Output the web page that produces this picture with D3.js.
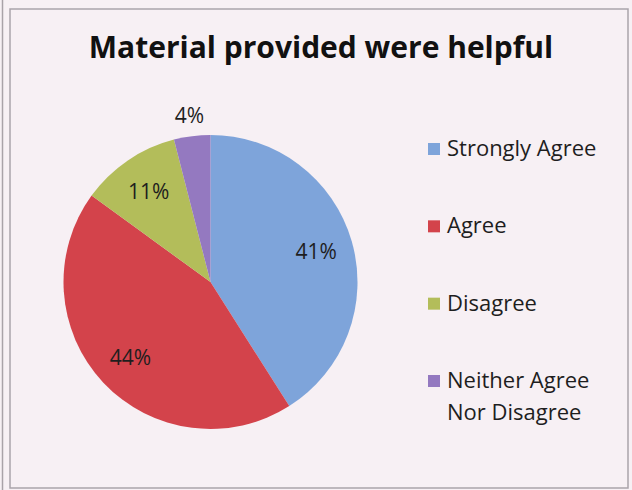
<!DOCTYPE html>
<html>
<head>
<meta charset="utf-8">
<script src="https://cdn.jsdelivr.net/npm/d3@7"></script>
<style>
  html, body { margin: 0; padding: 0; background: #ffffff; }
  svg { display: block; }
</style>
</head>
<body>
<svg id="chart" width="632" height="490"></svg>
<script>
const title = "Material provided were helpful";
const categories = ["Strongly Agree", "Agree", "Disagree", "Neither Agree Nor Disagree"];
const legendLines = [["Strongly Agree"], ["Agree"], ["Disagree"], ["Neither Agree", "Nor Disagree"]];
const values = [41, 44, 11, 4];
const colors = ["#7ea4da", "#d3434b", "#b3bd5a", "#9479c0"];

const svg = d3.select("#chart");
const W = 632, H = 490;

// background and frame
svg.append("rect").attr("x", 0).attr("y", 0).attr("width", W).attr("height", H).attr("fill", "#f7f0f4");
svg.append("line").attr("x1", 2.5).attr("x2", 2.5).attr("y1", 0).attr("y2", H).attr("stroke", "#a9a2a8").attr("stroke-width", 1.5);
svg.append("rect").attr("x", 10).attr("y", 9).attr("width", 618).attr("height", 479)
  .attr("fill", "none").attr("stroke", "#aaa4aa").attr("stroke-width", 1.5);

// title
svg.append("text")
  .attr("x", 321).attr("y", 58)
  .attr("text-anchor", "middle")
  .style("font-family", "'Open Sans', sans-serif")
  .style("font-weight", "bold")
  .style("font-size", "30px")
  .attr("fill", "#111")
  .text(title);

// pie
const cx = 210.5, cy = 282, R = 147;
const pie = d3.pie().sort(null).value(d => d)(values);
const arc = d3.arc().innerRadius(0).outerRadius(R);
const g = svg.append("g").attr("transform", `translate(${cx},${cy})`);
g.selectAll("path").data(pie).enter().append("path")
  .attr("d", arc)
  .attr("fill", (d, i) => colors[i]);

const inner = d3.arc().innerRadius(110).outerRadius(110);
const outer = d3.arc().innerRadius(168).outerRadius(168);
g.selectAll("text.lbl").data(pie).enter().append("text")
  .attr("class", "lbl")
  .attr("transform", d => {
    const c = (d.data < 6 ? outer : inner).centroid(d);
    return `translate(${c[0]},${c[1]})`;
  })
  .attr("text-anchor", "middle")
  .attr("dy", "0.36em")
  .style("font-family", "'Open Sans', sans-serif")
  .style("font-size", "21px")
  .attr("fill", "#1e1e1e")
  .text(d => d.data + "%");

// legend
const ly = d3.scalePoint().domain(d3.range(categories.length)).range([149, 381]);
const leg = svg.append("g");
categories.forEach((c, i) => {
  const y = ly(i);
  leg.append("rect").attr("x", 428).attr("y", y - 6).attr("width", 12).attr("height", 12).attr("fill", colors[i]);
  legendLines[i].forEach((t, j) => {
    leg.append("text")
      .attr("x", 447).attr("y", y + 7 + j * 32)
      .style("font-family", "'Open Sans', sans-serif")
      .style("font-size", "22px")
      .attr("fill", "#1e1e1e")
      .text(t);
  });
});
</script>
</body>
</html>
